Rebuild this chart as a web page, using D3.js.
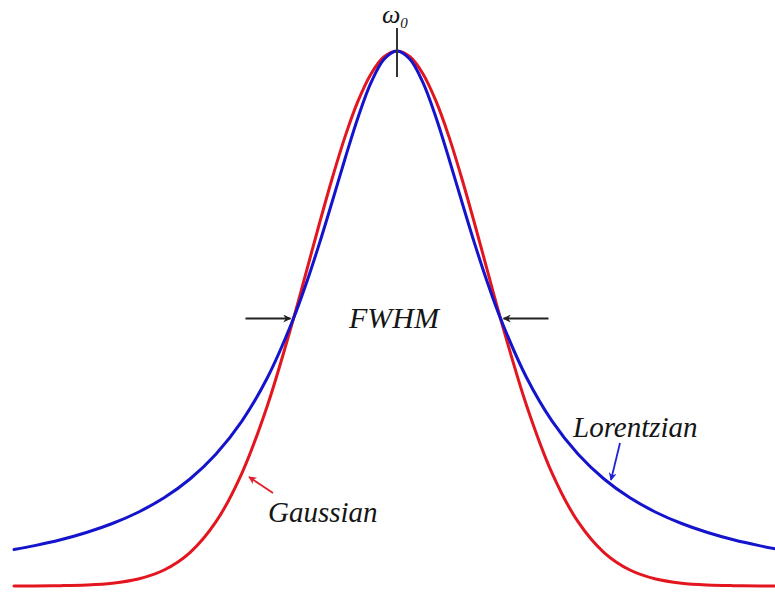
<!DOCTYPE html>
<html>
<head>
<meta charset="utf-8">
<script src="https://cdn.jsdelivr.net/npm/d3@7"></script>
<style>
  html, body { margin: 0; padding: 0; background: #fff; }
  svg { display: block; }
  .lbl { font-family: "Liberation Serif", "Times New Roman", serif; font-style: italic; fill: #151515; }
</style>
</head>
<body>
<svg id="chart" width="775" height="594"></svg>
<script>
// Offset from the line centre, in half-widths (HWHM = 1)
const offsets = [-3.7, -3.5, -3.25, -3, -2.75, -2.5, -2.25, -2, -1.75, -1.5, -1.25, -1,
                 -0.875, -0.75, -0.625, -0.5, -0.375, -0.25, -0.125,
                 0, 0.125, 0.25, 0.375, 0.5, 0.625, 0.75, 0.875,
                 1, 1.25, 1.5, 1.75, 2, 2.25, 2.5, 2.75, 3, 3.25, 3.5, 3.7];

// Normalised line intensity (peak = 1), both profiles share the same FWHM
const gaussian = [0.00008, 0.0002, 0.00066, 0.00195, 0.0053, 0.0131, 0.0299, 0.0625, 0.1197, 0.2102, 0.3385, 0.5,
                  0.5881, 0.6771, 0.7627, 0.8409, 0.9071, 0.9576, 0.9892,
                  1, 0.9892, 0.9576, 0.9071, 0.8409, 0.7627, 0.6771, 0.5881,
                  0.5, 0.3385, 0.2102, 0.1197, 0.0625, 0.0299, 0.0131, 0.0053, 0.00195, 0.00066, 0.0002, 0.00008];
const lorentzian = [0.0681, 0.0755, 0.0865, 0.1, 0.1168, 0.1379, 0.1649, 0.2, 0.2462, 0.3077, 0.3902, 0.5,
                    0.5664, 0.64, 0.7191, 0.8, 0.8767, 0.9412, 0.9846,
                    1, 0.9846, 0.9412, 0.8767, 0.8, 0.7191, 0.64, 0.5664,
                    0.5, 0.3902, 0.3077, 0.2462, 0.2, 0.1649, 0.1379, 0.1168, 0.1, 0.0865, 0.0755, 0.0681];

const labels = { centre: "ω", centreSub: "0", width: "FWHM", gauss: "Gaussian", lorentz: "Lorentzian" };

const svg = d3.select("#chart");

const x = d3.scaleLinear().domain([-3.7, 3.7]).range([14, 780]);
const y = d3.scaleLinear().domain([0, 1]).range([586, 51]);

const line = (vals) => d3.line()
  .x((d, i) => x(offsets[i]))
  .y(d => y(d))
  .curve(d3.curveCatmullRom.alpha(0.5))(vals);

// Arrow heads
const defs = svg.append("defs");
function marker(id, color) {
  defs.append("marker")
    .attr("id", id)
    .attr("viewBox", "0 0 10 10")
    .attr("refX", 9).attr("refY", 5)
    .attr("markerWidth", 10).attr("markerHeight", 8)
    .attr("markerUnits", "userSpaceOnUse")
    .attr("orient", "auto")
    .append("path")
    .attr("d", "M0,0 L10,5 L0,10 L3,5 Z")
    .attr("fill", color);
}
marker("ahBlack", "#222");
marker("ahRed", "#e0202a");
marker("ahBlue", "#2020d8");

// Profiles
svg.append("path")
  .attr("d", line(gaussian))
  .attr("fill", "none")
  .attr("stroke", "#e3161f")
  .attr("stroke-width", 3)
  .attr("stroke-linecap", "round")
  .attr("stroke-linejoin", "round");

svg.append("path")
  .attr("d", line(lorentzian))
  .attr("fill", "none")
  .attr("stroke", "#1414cc")
  .attr("stroke-width", 3)
  .attr("stroke-linecap", "round")
  .attr("stroke-linejoin", "round");

// Centre marker
svg.append("line")
  .attr("x1", x(0)).attr("x2", x(0))
  .attr("y1", y(1) - 23).attr("y2", y(1) + 26)
  .attr("stroke", "#333").attr("stroke-width", 2);

const cl = svg.append("text").attr("class", "lbl")
  .attr("x", 382).attr("y", 23)
  .attr("font-size", 26);
cl.append("tspan").text(labels.centre);
cl.append("tspan").attr("font-size", 15).attr("dy", 5).text(labels.centreSub);

// FWHM arrows at half maximum
const hy = y(0.5);
svg.append("line")
  .attr("x1", x(-1) - 48).attr("x2", x(-1) - 3)
  .attr("y1", hy).attr("y2", hy)
  .attr("stroke", "#222").attr("stroke-width", 1.8)
  .attr("marker-end", "url(#ahBlack)");
svg.append("line")
  .attr("x1", x(1) + 48).attr("x2", x(1) + 3)
  .attr("y1", hy).attr("y2", hy)
  .attr("stroke", "#222").attr("stroke-width", 1.8)
  .attr("marker-end", "url(#ahBlack)");

svg.append("text").attr("class", "lbl")
  .attr("x", 394).attr("y", 328)
  .attr("text-anchor", "middle")
  .attr("font-size", 30)
  .text(labels.width);

// Curve labels with pointers
svg.append("text").attr("class", "lbl")
  .attr("x", 268).attr("y", 522)
  .attr("font-size", 29)
  .text(labels.gauss);
svg.append("line")
  .attr("x1", 273).attr("y1", 493).attr("x2", 249).attr("y2", 477)
  .attr("stroke", "#e0202a").attr("stroke-width", 1.8)
  .attr("marker-end", "url(#ahRed)");

svg.append("text").attr("class", "lbl")
  .attr("x", 573).attr("y", 437)
  .attr("font-size", 29)
  .text(labels.lorentz);
svg.append("line")
  .attr("x1", 620).attr("y1", 443).attr("x2", 611).attr("y2", 480)
  .attr("stroke", "#2020d8").attr("stroke-width", 1.8)
  .attr("marker-end", "url(#ahBlue)");
</script>
</body>
</html>
